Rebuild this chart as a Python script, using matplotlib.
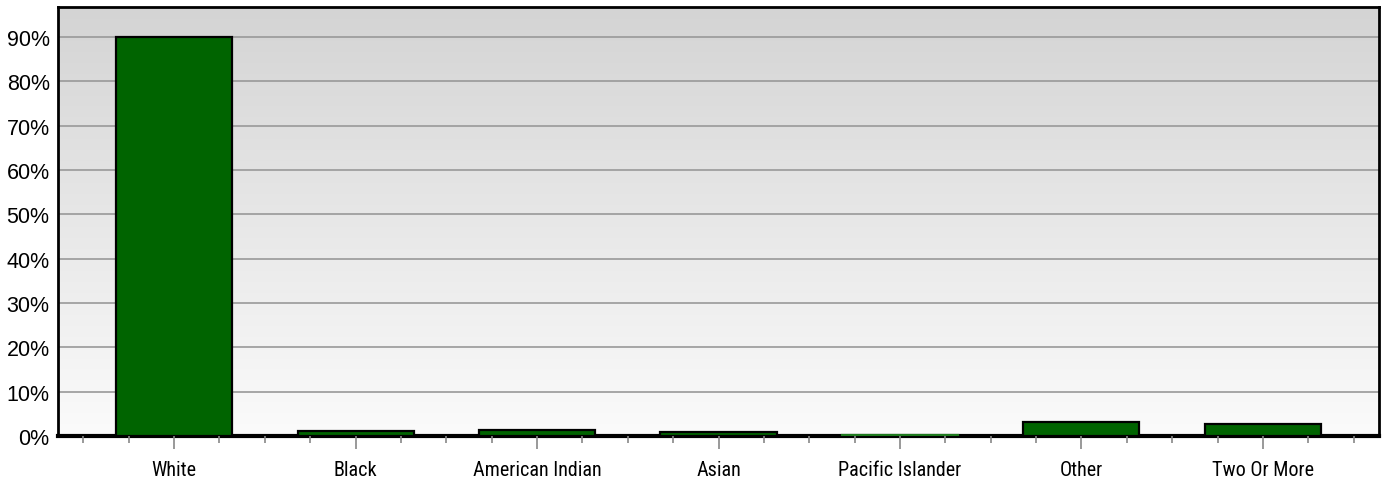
import numpy as np
import matplotlib.pyplot as plt
from matplotlib.colors import LinearSegmentedColormap
from matplotlib.ticker import MultipleLocator, FuncFormatter
from matplotlib import font_manager

categories = ["White", "Black", "American Indian", "Asian",
              "Pacific Islander", "Other", "Two Or More"]
shares = [90.0, 1.2, 1.3, 0.8, 0.2, 3.1, 2.6]
yticks = [0, 10, 20, 30, 40, 50, 60, 70, 80, 90]

names = {f.name for f in font_manager.fontManager.ttflist}
label_font = "DejaVu Sans"
for cand in ["Liberation Sans Narrow", "Roboto Condensed", "Open Sans Condensed",
             "DejaVu Sans Condensed"]:
    if cand in names:
        label_font = cand
        break

fig = plt.figure(figsize=(13.84, 4.81), dpi=100)
ax = fig.add_axes([58 / 1384, 44 / 481, 1321 / 1384, 429 / 481])

x = np.arange(len(categories))
x0, x1 = -0.64, len(categories) - 1 + 0.64
ax.set_xlim(x0, x1)
ax.set_ylim(0, 96.8)

# vertical grey gradient behind the bars
grad = np.linspace(0, 1, 256).reshape(-1, 1)
bg = LinearSegmentedColormap.from_list("bg", ["#fbfbfb", "#d4d4d4"])
ax.imshow(grad, cmap=bg, aspect="auto", origin="lower",
          extent=(x0, x1, 0, 96.8), zorder=0)

for t in yticks[1:]:
    ax.axhline(t, color="#999999", lw=1.2, zorder=1)

bars = ax.bar(x, shares, width=0.64, color="#006400", edgecolor="black",
              linewidth=1.6, zorder=2)
# the tiny Pacific Islander bar shows only as a green sliver
bars[4].set_edgecolor("#1e7a1e")

ax.set_yticks(yticks)
ax.yaxis.set_major_formatter(FuncFormatter(lambda v, p: f"{v:.0f}%"))
ax.tick_params(axis="y", length=0, labelsize=15.5, pad=6)
for lab in ax.get_yticklabels():
    lab.set_fontfamily("Liberation Sans")

ax.set_xticks(x)
ax.set_xticklabels(categories, fontsize=14.5, fontfamily=label_font,
                   fontstretch="condensed")
ax.xaxis.set_minor_locator(MultipleLocator(0.25))
ax.tick_params(axis="x", which="major", length=9, width=1.2,
               color="#888888", pad=8)
ax.tick_params(axis="x", which="minor", length=5, width=1.2, color="#888888")

for side in ["left", "top", "right"]:
    ax.spines[side].set_linewidth(2)
    ax.spines[side].set_color("black")
ax.spines["bottom"].set_linewidth(3)
ax.spines["bottom"].set_color("black")
ax.spines["bottom"].set_zorder(1.5)

fig.savefig("out.png", dpi=100)
